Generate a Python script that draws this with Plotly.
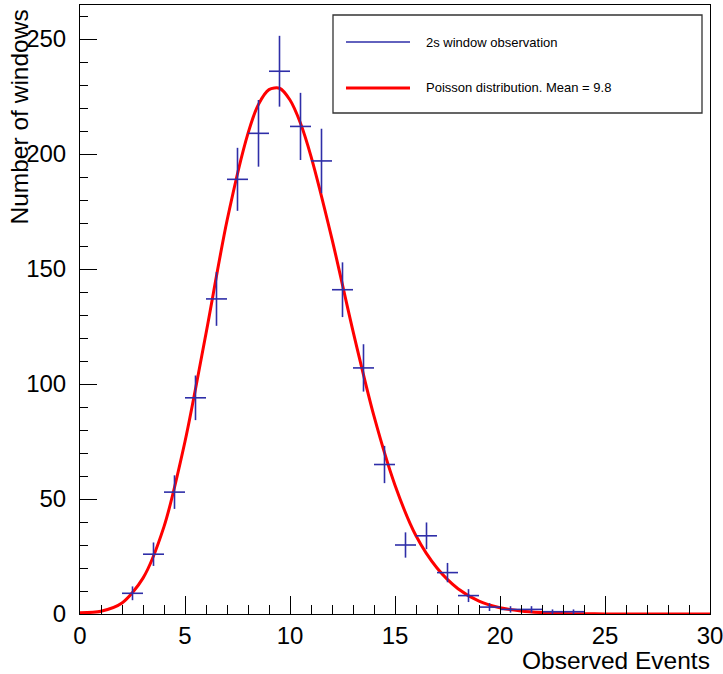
import plotly.graph_objects as go

# Observed histogram (bin centres, counts, errors)
bin_centers = [2.5, 3.5, 4.5, 5.5, 6.5, 7.5, 8.5, 9.5, 10.5, 11.5, 12.5, 13.5,
               14.5, 15.5, 16.5, 17.5, 18.5, 19.5, 20.5, 21.5, 22.5, 23.5]
counts = [9, 26, 53, 94, 137, 189, 209, 236, 212, 197, 141, 107,
          65, 30, 34, 18, 8, 3, 2, 2, 1, 1]
count_errors = [3.0, 5.1, 7.3, 9.7, 11.7, 13.7, 14.5, 15.4, 14.6, 14.0, 11.9, 10.3,
                8.1, 5.5, 5.8, 4.2, 2.8, 1.7, 1.4, 1.4, 1.0, 1.0]
bin_half_width = [0.5] * len(bin_centers)

# Poisson curve
curve_x = [0, 1, 2, 3, 4, 5, 6, 7, 8, 8.5, 9, 9.5, 10, 10.5, 11, 12, 13, 14, 15,
           16, 17, 18, 19, 20, 21, 22, 23, 24, 25, 26, 27, 28, 29, 30]
curve_y = [0.5, 1.2, 4.8, 15.6, 38, 75, 122, 171, 209, 221.6, 228, 228.6, 223.5, 213.4,
           199, 163, 123, 86, 56, 34, 20, 11, 5.6, 2.7, 1.3, 0.6, 0.25, 0.1, 0.05, 0.02,
           0, 0, 0, 0]

legend_labels = ["2s window observation", "Poisson distribution. Mean = 9.8"]
x_title = "Observed Events"
y_title = "Number of windows"

FONT = "Liberation Sans, Arial, Helvetica, sans-serif"
BLUE = "#2e2ea8"
RED = "#ff0000"

fig = go.Figure()
fig.add_trace(go.Scatter(
    x=curve_x, y=curve_y, mode="lines",
    line=dict(color=RED, width=3, shape="spline", smoothing=0.8),
    hoverinfo="skip", showlegend=False,
))
fig.add_trace(go.Scatter(
    x=bin_centers, y=counts, mode="markers",
    marker=dict(size=0.1, color=BLUE, opacity=0),
    error_x=dict(type="data", array=bin_half_width, visible=True,
                 color=BLUE, thickness=1.6, width=0),
    error_y=dict(type="data", array=count_errors, visible=True,
                 color=BLUE, thickness=1.6, width=0),
    showlegend=False,
))

L, R, T, B = 80, 13, 5, 60
W, H = 723, 674
pw, ph = W - L - R, H - T - B

def px(x):
    return (x - L) / pw

def py(y):
    return (H - B - y) / ph

fig.update_layout(
    width=W, height=H,
    margin=dict(l=L, r=R, t=T, b=B, pad=0, autoexpand=False),
    paper_bgcolor="white", plot_bgcolor="white",
    font=dict(family=FONT, size=24, color="black"),
    showlegend=False,
)
fig.update_xaxes(
    range=[0, 30], showgrid=False, zeroline=False, automargin=False,
    showline=True, linecolor="black", linewidth=1, mirror=True,
    ticks="inside", ticklen=18, tickwidth=1, tickcolor="black",
    tickmode="array", tickvals=[0, 5, 10, 15, 20, 25, 30],
    ticktext=["0", "5", "10", "15", "20", "25", "30"],
    minor=dict(ticks="inside", ticklen=9, dtick=1, tick0=0, tickcolor="black", tickwidth=1),
    tickfont=dict(family=FONT, size=24, color="black"),
    ticklabelstandoff=0, ticklabeloverflow="allow",
)
fig.update_yaxes(
    range=[0, 264.8], showgrid=False, zeroline=False, automargin=False,
    showline=True, linecolor="black", linewidth=1, mirror=True,
    ticks="inside", ticklen=17, tickwidth=1, tickcolor="black",
    tick0=0, dtick=50,
    minor=dict(ticks="inside", ticklen=8, dtick=10, tickcolor="black", tickwidth=1),
    tickfont=dict(family=FONT, size=24, color="black"),
    ticklabelstandoff=8, ticklabeloverflow="allow",
)

# Axis titles (ROOT style: right/top aligned)
fig.add_annotation(text=x_title, xref="paper", yref="paper",
                   x=px(712), y=py(660), xanchor="right", yanchor="middle",
                   showarrow=False, font=dict(family=FONT, size=24.5, color="black"))
fig.add_annotation(text=y_title, xref="paper", yref="paper",
                   x=px(19), y=py(8), xanchor="center", yanchor="top", textangle=-90,
                   showarrow=False, font=dict(family=FONT, size=24.5, color="black"))

# Legend box
fig.add_shape(type="rect", xref="paper", yref="paper",
              x0=px(333), x1=px(702), y0=py(113), y1=py(15),
              line=dict(color="#333333", width=1.3), fillcolor="white", layer="above")
fig.add_shape(type="line", xref="paper", yref="paper",
              x0=px(346), x1=px(410), y0=py(42), y1=py(42),
              line=dict(color=BLUE, width=1.5), layer="above")
fig.add_shape(type="line", xref="paper", yref="paper",
              x0=px(346), x1=px(410), y0=py(88), y1=py(88),
              line=dict(color=RED, width=3), layer="above")
fig.add_annotation(text=legend_labels[0], xref="paper", yref="paper",
                   x=px(424), y=py(42), xanchor="left", yanchor="middle",
                   showarrow=False, font=dict(family=FONT, size=13, color="black"))
fig.add_annotation(text=legend_labels[1], xref="paper", yref="paper",
                   x=px(424), y=py(88), xanchor="left", yanchor="middle",
                   showarrow=False, font=dict(family=FONT, size=13, color="black"))

fig.write_html("out.html")
